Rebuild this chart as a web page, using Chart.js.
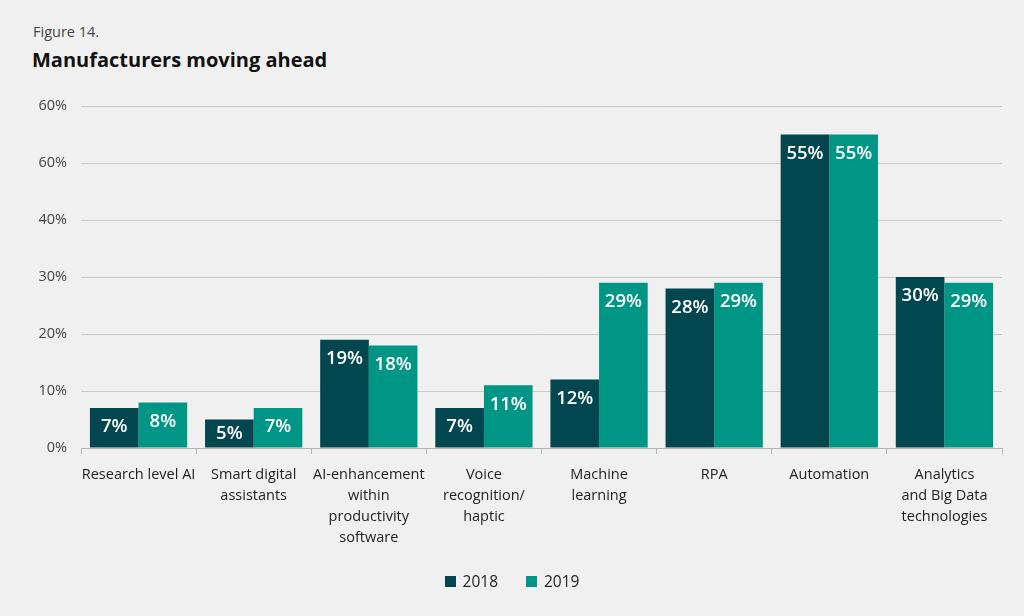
<!DOCTYPE html>
<html>
<head>
<meta charset="utf-8">
<script src="https://cdn.jsdelivr.net/npm/chart.js@4.4.1/dist/chart.umd.min.js"></script>
<style>
  html, body { margin: 0; padding: 0; background: #f0f0f0; }
  body { width: 1024px; height: 616px; position: relative; overflow: hidden; font-family: 'Open Sans', sans-serif; }
  #fig { position: absolute; left: 33px; top: 22px; font-size: 14.5px; color: #444; }
  #title { position: absolute; left: 32px; top: 46px; font-size: 20px; font-weight: 700; color: #111; }
  #c { position: absolute; left: 0; top: 0; }
  #legend { position: absolute; left: 0; width: 1024px; top: 570px; display: flex; justify-content: center; gap: 28px; font-size: 15.5px; color: #222; }
  .item { display: flex; align-items: center; }
  .sw { width: 11px; height: 11px; margin-right: 7px; }
</style>
</head>
<body>
<div id="fig">Figure 14.</div>
<div id="title">Manufacturers moving ahead</div>
<canvas id="c" width="1024" height="616"></canvas>
<div id="legend"></div>
<script>
const categories = [
  ['Research level AI'],
  ['Smart digital', 'assistants'],
  ['AI-enhancement', 'within', 'productivity', 'software'],
  ['Voice', 'recognition/', 'haptic'],
  ['Machine', 'learning'],
  ['RPA'],
  ['Automation'],
  ['Analytics', 'and Big Data', 'technologies']
];
const seriesNames = ['2018', '2019'];
const values2018 = [7, 5, 19, 7, 12, 28, 55, 30];
const values2019 = [8, 7, 18, 11, 29, 29, 55, 29];
const yTickLabels = ['0%', '10%', '20%', '30%', '40%', '60%', '60%'];
const colors = ['#02474f', '#009685'];

const legend = document.getElementById('legend');
seriesNames.forEach((n, i) => {
  const d = document.createElement('div');
  d.className = 'item';
  d.innerHTML = '<span class="sw" style="background:' + colors[i] + '"></span><span>' + n + '</span>';
  legend.appendChild(d);
});

const barLabels = {
  id: 'barLabels',
  afterDatasetsDraw(chart) {
    const ctx = chart.ctx;
    ctx.save();
    ctx.fillStyle = '#ffffff';
    ctx.font = "600 18.5px 'Open Sans', sans-serif";
    ctx.textAlign = 'center';
    ctx.textBaseline = 'middle';
    chart.data.datasets.forEach((ds, di) => {
      const meta = chart.getDatasetMeta(di);
      meta.data.forEach((el, i) => {
        const y = Math.min(el.y + 19, (el.y + el.base) / 2);
        ctx.fillText(ds.data[i] + '%', el.x, y);
      });
    });
    ctx.restore();
  }
};

new Chart(document.getElementById('c'), {
  type: 'bar',
  data: {
    labels: categories,
    datasets: [
      { label: seriesNames[0], data: values2018, backgroundColor: colors[0] },
      { label: seriesNames[1], data: values2019, backgroundColor: colors[1] }
    ]
  },
  options: {
    responsive: false,
    animation: false,
    devicePixelRatio: 1,
    layout: { padding: { top: 106, right: 22, left: 0, bottom: 0 } },
    datasets: { bar: { categoryPercentage: 0.845, barPercentage: 1.0 } },
    plugins: { legend: { display: false }, tooltip: { enabled: false } },
    scales: {
      x: {
        afterFit(scale) { scale.height = 168; },
        grid: { display: true, drawOnChartArea: false, drawTicks: true, tickLength: 6, color: '#b5b5b5', offset: true },
        border: { display: true, color: '#b5b5b5' },
        ticks: { padding: 10, color: '#222', font: { family: "'Open Sans', sans-serif", size: 14.5, lineHeight: 1.45 }, maxRotation: 0, autoSkip: false }
      },
      y: {
        min: 0, max: 60,
        afterFit(scale) { scale.width = 81; },
        grid: { color: '#c9c9c9', drawTicks: false, tickLength: 0 },
        border: { display: false },
        ticks: { stepSize: 10, padding: 14, color: '#444', font: { family: "'Open Sans', sans-serif", size: 14.5 },
          callback: (v, i) => yTickLabels[i] }
      }
    }
  },
  plugins: [barLabels]
});
</script>
</body>
</html>
